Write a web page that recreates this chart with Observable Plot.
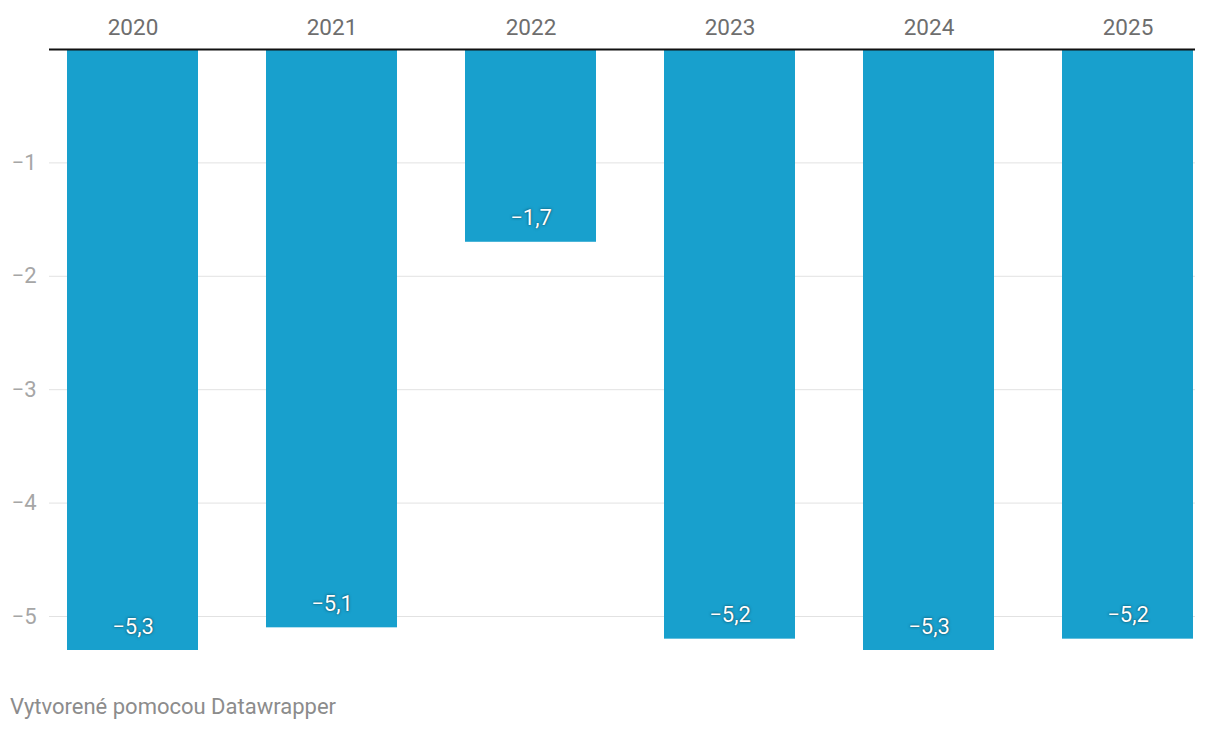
<!DOCTYPE html>
<html>
<head>
<meta charset="utf-8">
<script src="https://cdn.jsdelivr.net/npm/d3@7"></script>
<script src="https://cdn.jsdelivr.net/npm/@observablehq/plot@0.6"></script>
<style>
  body { margin: 0; background: #fff; font-family: Roboto, sans-serif; }
  #chart svg { display: block; }
  .caption { font-family: Roboto, sans-serif; font-size: 22px; color: #8c8c8c; margin: 34px 0 0 10px; }
</style>
</head>
<body>
<div id="chart"></div>
<div class="caption">Vytvorené pomocou Datawrapper</div>
<script>
const years = ["2020", "2021", "2022", "2023", "2024", "2025"];
const values = [-5.3, -5.1, -1.7, -5.2, -5.3, -5.2];
const yTicks = [-1, -2, -3, -4, -5];

const data = years.map((year, i) => ({year, value: values[i]}));
const fmt = v => (v < 0 ? "\u2212" : "") + Math.abs(v).toLocaleString("en-US", {minimumFractionDigits: 0, maximumFractionDigits: 1}).replace(".", ",");

const chart = Plot.plot({
  width: 1220,
  height: 660,
  marginTop: 49,
  marginBottom: 10,
  marginLeft: 49,
  marginRight: 25,
  style: {fontFamily: "Roboto, sans-serif", background: "#fff"},
  x: {domain: years, paddingInner: 0.342, paddingOuter: 0.05, align: 0.9, axis: null},
  y: {domain: [-5.3, 0], axis: null},
  marks: [
    Plot.ruleY(yTicks, {stroke: "#e2e2e2", strokeWidth: 1}),
    Plot.axisY(yTicks, {anchor: "left", tickSize: 0, tickPadding: 13, fontSize: 22, fill: "#a6a6a6", tickFormat: fmt, label: null}),
    Plot.axisX({anchor: "top", tickSize: 0, tickPadding: 15, fontSize: 22.5, fill: "#6e6e6e", label: null}),
    Plot.barY(data, {x: "year", y: "value", fill: "#18a0cd"}),
    Plot.ruleY([0], {stroke: "#111", strokeWidth: 2}),
    Plot.text(data, {x: "year", y: "value", text: d => fmt(d.value), dy: -24, fill: "#fff", fontSize: 22})
  ]
});
const labels = chart.querySelector('g[aria-label="text"]');
if (labels) labels.setAttribute("style", "text-shadow: 0 0 3px rgba(0,0,0,0.5), 0 0 1px rgba(0,0,0,0.35)");
document.getElementById("chart").append(chart);
</script>
</body>
</html>
